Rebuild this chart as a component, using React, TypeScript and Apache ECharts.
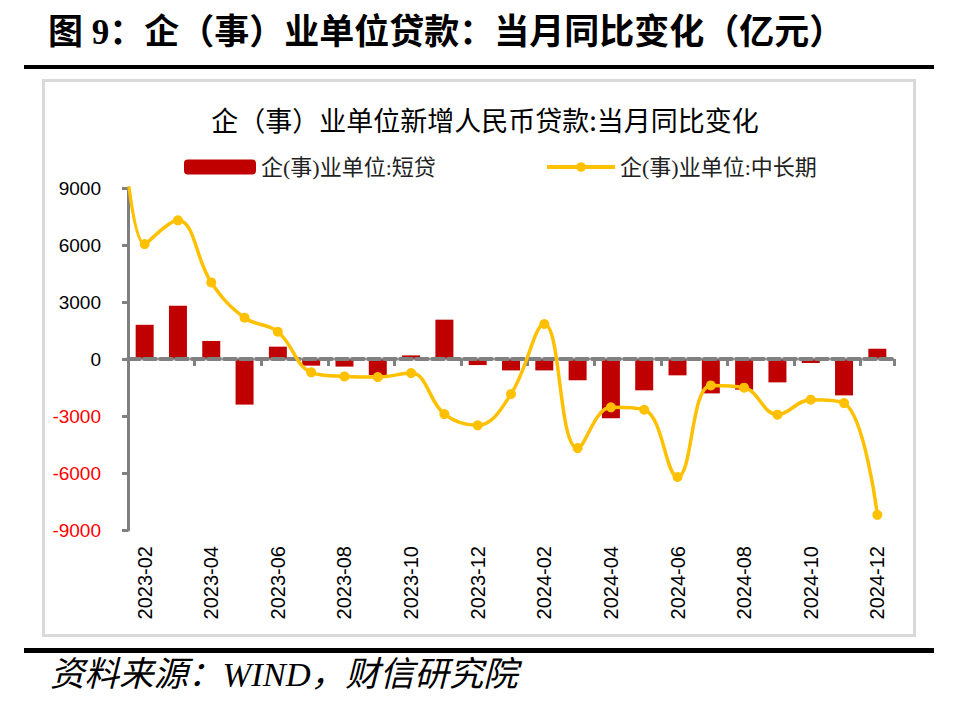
import React, { useEffect, useRef } from "react";
import * as echarts from "echarts";

const months = [
  "2023-02", "2023-03", "2023-04", "2023-05", "2023-06", "2023-07", "2023-08",
  "2023-09", "2023-10", "2023-11", "2023-12", "2024-01", "2024-02", "2024-03",
  "2024-04", "2024-05", "2024-06", "2024-07", "2024-08", "2024-09", "2024-10",
  "2024-11", "2024-12",
];
const shortLoan = [
  1800, 2800, 950, -2400, 650, -350, -400, -850, 190, 2070, -320, -600, -600,
  -1120, -3120, -1650, -860, -1810, -1615, -1230, -210, -1915, 540,
];
const midLongLoan = [
  6050, 7300, 4030, 2170, 1435, -700, -915, -950, -740, -2900, -3490, -1845,
  1840, -4690, -2545, -2670, -6210, -1390, -1510, -2930, -2140, -2320, -8200,
];
// value of the month before the first category (off the chart, clipped at the top)
const midLongPrior = 24000;
const yTicks = { min: -9000, max: 9000, interval: 3000 };

const shortName = "企(事)业单位:短贷";
const longName = "企(事)业单位:中长期";
const headTitle = "图 9：企（事）业单位贷款：当月同比变化（亿元）";
const chartTitle = "企（事）业单位新增人民币贷款:当月同比变化";
const sourceText = "资料来源：WIND，财信研究院";

const GRAY = "#808080";
const RED = "#C00000";
const GOLD = "#FFC000";
const SANS = "'Liberation Sans', Arial, 'Noto Sans CJK SC', sans-serif";
const SERIF = "'Liberation Serif', 'Times New Roman', 'Noto Sans CJK SC', serif";

export default function App() {
  const ref = useRef<HTMLDivElement>(null);
  useEffect(() => {
    if (!ref.current) return;
    const chart = echarts.init(ref.current, null, { renderer: "svg" });
    const lineData: any[] = [
      { value: [-1, midLongPrior], symbol: "none" },
      ...midLongLoan.map((v, i) => [i, v]),
    ];
    chart.setOption({
      animation: false,
      backgroundColor: "#fff",
      graphic: [
        {
          type: "text",
          left: 48,
          top: 15,
          style: {
            text: headTitle,
            font: `bold 35px ${SERIF}`,
            fill: "#000",
          },
        },
        { type: "rect", shape: { x: 24, y: 65, width: 910, height: 4 }, style: { fill: "#000" } },
        {
          type: "rect",
          shape: { x: 43.5, y: 80.5, width: 871, height: 555 },
          style: { fill: "none", stroke: "#d9d9d9", lineWidth: 3 },
          z: -1,
        },
        { type: "rect", shape: { x: 24, y: 648, width: 910, height: 5 }, style: { fill: "#000" } },
        {
          type: "text",
          left: 50,
          top: 657,
          style: {
            text: sourceText,
            font: `italic 34.5px ${SERIF}`,
            fill: "#000",
          },
        },
      ],
      title: {
        text: chartTitle,
        left: 480,
        top: 101,
        textAlign: "center",
        textStyle: {
          fontFamily: "'Noto Sans CJK SC', sans-serif",
          fontSize: 27,
          fontWeight: "normal",
          color: "#000",
        },
      },
      legend: [
        {
          left: 184,
          top: 156,
          padding: 0,
          data: [shortName],
          itemWidth: 72,
          itemHeight: 15,
          textStyle: { fontFamily: SERIF, fontSize: 22, color: "#222" },
        },
        {
          left: 545,
          top: 156,
          padding: 0,
          data: [longName],
          itemWidth: 68,
          itemHeight: 12,
          lineStyle: { width: 4 },
          textStyle: { fontFamily: SERIF, fontSize: 22, color: "#222" },
        },
      ],
      grid: { left: 128, right: 61, top: 188, bottom: 172, containLabel: false },
      xAxis: [
        {
          type: "category",
          data: months,
          boundaryGap: true,
          axisLine: { show: false, onZero: false },
          axisTick: { show: false },
          axisLabel: {
            interval: 1,
            rotate: 90,
            margin: 16,
            fontFamily: SANS,
            fontSize: 20,
            color: "#000",
          },
        },
        {
          type: "category",
          data: months,
          boundaryGap: true,
          position: "bottom",
          z: 3,
          axisLine: {
            show: true,
            onZero: true,
            lineStyle: { color: GRAY, width: 4, type: [12, 4] },
          },
          axisTick: {
            show: true,
            interval: 1,
            length: 7,
            lineStyle: { color: GRAY, width: 3 },
          },
          axisLabel: { show: false },
        },
        {
          type: "value",
          show: false,
          min: -0.5,
          max: months.length - 0.5,
          axisLine: { onZero: false },
        },
      ],
      yAxis: {
        type: "value",
        min: yTicks.min,
        max: yTicks.max,
        interval: yTicks.interval,
        axisLine: { show: true, onZero: false, lineStyle: { color: GRAY, width: 3 } },
        axisTick: { show: true, length: 6, lineStyle: { color: GRAY, width: 3 } },
        splitLine: { show: false },
        axisLabel: {
          margin: 27,
          formatter: (v: number) => (v < 0 ? `{n|${v}}` : `{p|${v}}`),
          rich: {
            n: { color: "#FF0000", fontFamily: SANS, fontSize: 19 },
            p: { color: "#000", fontFamily: SANS, fontSize: 19 },
          },
        },
      },
      series: [
        {
          name: shortName,
          type: "bar",
          xAxisIndex: 0,
          data: shortLoan,
          barWidth: 18,
          itemStyle: { color: RED },
          z: 2,
        },
        {
          name: longName,
          type: "line",
          xAxisIndex: 2,
          data: lineData,
          smooth: 0.4,
          clip: true,
          symbol: "circle",
          symbolSize: 10,
          lineStyle: { color: GOLD, width: 3.5 },
          itemStyle: { color: GOLD },
          z: 5,
        },
      ],
    });
    return () => chart.dispose();
  }, []);
  return (
    <div
      ref={ref}
      style={{ position: "absolute", left: 0, top: 0, width: 955, height: 702 }}
    />
  );
}
